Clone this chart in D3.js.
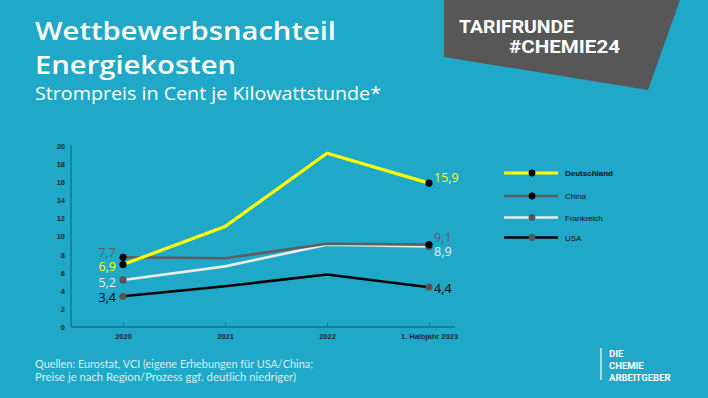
<!DOCTYPE html>
<html><head><meta charset="utf-8">
<script src="https://cdn.jsdelivr.net/npm/d3@7"></script>
<style>html,body{margin:0;padding:0;background:#20a8c8;}svg{display:block}</style>
</head><body>
<script>
const categories = ["2020","2021","2022","1. Halbjahr 2023"];
const deutschland = [6.9, 11.1, 19.2, 15.9];
const china = [7.7, 7.6, 9.2, 9.1];
const frankreich = [5.2, 6.7, 9.1, 8.9];
const usa = [3.4, 4.5, 5.8, 4.4];
const yTicks = [0,2,4,6,8,10,12,14,16,18,20];
const seriesNames = ["Deutschland","China","Frankreich","USA"];
const startLabels = ["6,9","7,7","5,2","3,4"];
const endLabels = ["15,9","9,1","8,9","4,4"];

const W=708,H=398;
const svg=d3.select("body").append("svg").attr("width",W).attr("height",H);
svg.append("rect").attr("width",W).attr("height",H).attr("fill","#20a8c8");

// grey badge
svg.append("polygon").attr("points","444,0 680,0 648,90 444,57").attr("fill","#575757");
svg.append("text").attr("x",459).attr("y",33).attr("fill","#fff")
  .attr("font-family","Roboto").attr("font-weight",700).attr("font-size",18)
  .attr("textLength",115).attr("lengthAdjust","spacingAndGlyphs").text("TARIFRUNDE");
svg.append("text").attr("x",509).attr("y",53).attr("fill","#fff")
  .attr("font-family","Roboto").attr("font-weight",700).attr("font-size",18)
  .attr("textLength",111).attr("lengthAdjust","spacingAndGlyphs").text("#CHEMIE24");

// titles
const tf="'Open Sans'";
svg.append("text").attr("x",35).attr("y",39.5).attr("fill","#fff").attr("font-family",tf)
  .attr("font-weight",600).attr("font-size",26).attr("textLength",301).attr("lengthAdjust","spacingAndGlyphs").text("Wettbewerbsnachteil");
svg.append("text").attr("x",35).attr("y",74).attr("fill","#fff").attr("font-family",tf)
  .attr("font-weight",600).attr("font-size",26).attr("textLength",201).attr("lengthAdjust","spacingAndGlyphs").text("Energiekosten");
svg.append("text").attr("x",35).attr("y",100).attr("fill","#fff").attr("font-family",tf)
  .attr("font-weight",400).attr("font-size",18).attr("textLength",346).attr("lengthAdjust","spacingAndGlyphs").text("Strompreis in Cent je Kilowattstunde*");

// scales
const x=d3.scalePoint().domain(categories).range([123,429]);
const y=d3.scaleLinear().domain([0,20]).range([327,146]);
const axisColor="#17708a";

const g=svg.append("g");
// y axis
const ya=g.append("g").attr("transform","translate(71,0)").call(d3.axisLeft(y).tickValues(yTicks).tickSize(0).tickPadding(6));
ya.select(".domain").attr("stroke",axisColor).attr("stroke-width",1.3).attr("d",`M0,${y(20)-1}V${y(0)}`);
ya.selectAll("text").attr("font-family","'Liberation Sans'").attr("font-weight",700).attr("font-size",7.5).attr("fill","#1e2a30");
// x axis
const xa=g.append("g").attr("transform",`translate(0,${y(0)})`).call(d3.axisBottom(x).tickSizeInner(-4).tickSizeOuter(0).tickPadding(7));
xa.select(".domain").attr("stroke",axisColor).attr("stroke-width",1.3).attr("d","M71,0H455");
xa.selectAll(".tick line").attr("stroke",axisColor).attr("stroke-width",1);
xa.selectAll("text").attr("font-family","'Liberation Sans'").attr("font-weight",700).attr("font-size",7.5).attr("fill","#1e2a30");

const series=[
 {name:"USA",vals:usa,color:"#000000",w:2.6,dot:"#555555"},
 {name:"Frankreich",vals:frankreich,color:"#ececec",w:2.6,dot:"#555555"},
 {name:"China",vals:china,color:"#5e5e5e",w:2.6,dot:"#000000"},
 {name:"Deutschland",vals:deutschland,color:"#ffff00",w:3.2,dot:"#000000"}
];
const line=d3.line().x((d,i)=>x(categories[i])).y(d=>y(d));
series.forEach(s=>{
  g.append("path").datum(s.vals).attr("d",line).attr("fill","none").attr("stroke",s.color).attr("stroke-width",s.w).attr("stroke-linejoin","miter");
});
series.forEach(s=>{
  [0,3].forEach(i=>{
    g.append("circle").attr("cx",x(categories[i])).attr("cy",y(s.vals[i])).attr("r",3.6).attr("fill",s.dot);
  });
});

// value labels
const lf="'Open Sans'";
const labColors={Deutschland:"#ffff00",China:"#5e5e5e",Frankreich:"#ececec",USA:"#000000"};
const startY={Deutschland:270.5,China:257,Frankreich:287,USA:302};
const endY={Deutschland:182,China:242,Frankreich:256,USA:293};
seriesNames.forEach((n,i)=>{
  g.append("text").attr("x",116).attr("y",startY[n]).attr("text-anchor","end").attr("fill",labColors[n])
   .attr("font-family",lf).attr("font-size",12.5).text(startLabels[i]);
  g.append("text").attr("x",434).attr("y",endY[n]).attr("fill",labColors[n])
   .attr("font-family",lf).attr("font-size",12.5).text(endLabels[i]);
});

// legend
const legY=[173,196,217.5,237.5];
const legSeries=[series[3],series[2],series[1],series[0]];
legSeries.forEach((s,i)=>{
  const ly=legY[i];
  svg.append("line").attr("x1",504).attr("x2",558).attr("y1",ly).attr("y2",ly).attr("stroke",s.color).attr("stroke-width",s.name==="Deutschland"?3.2:2.6);
  svg.append("circle").attr("cx",532).attr("cy",ly).attr("r",3.4).attr("fill",s.dot);
  svg.append("text").attr("x",565).attr("y",ly+3).attr("fill","#111")
    .attr("font-family","'Liberation Sans'").attr("font-size",8).attr("font-weight",s.name==="Deutschland"?700:400).text(s.name);
});

// footer
svg.append("text").attr("x",35).attr("y",367.5).attr("fill","#d8eef4").attr("font-family","Lato").attr("font-size",11)
  .attr("textLength",278).attr("lengthAdjust","spacingAndGlyphs").text("Quellen: Eurostat, VCI (eigene Erhebungen für USA/China;");
svg.append("text").attr("x",35).attr("y",380.5).attr("fill","#d8eef4").attr("font-family","Lato").attr("font-size",11)
  .attr("textLength",261).attr("lengthAdjust","spacingAndGlyphs").text("Preise je nach Region/Prozess ggf. deutlich niedriger)");

// logo
svg.append("line").attr("x1",601).attr("x2",601).attr("y1",348).attr("y2",380).attr("stroke","#fff").attr("stroke-width",1.2);
["DIE","CHEMIE","ARBEITGEBER"].forEach((t,i)=>{
  svg.append("text").attr("x",609).attr("y",357+i*12).attr("fill","#fff").attr("font-family","Roboto")
   .attr("font-weight",700).attr("font-size",9.5).text(t);
});
</script>
</body></html>
